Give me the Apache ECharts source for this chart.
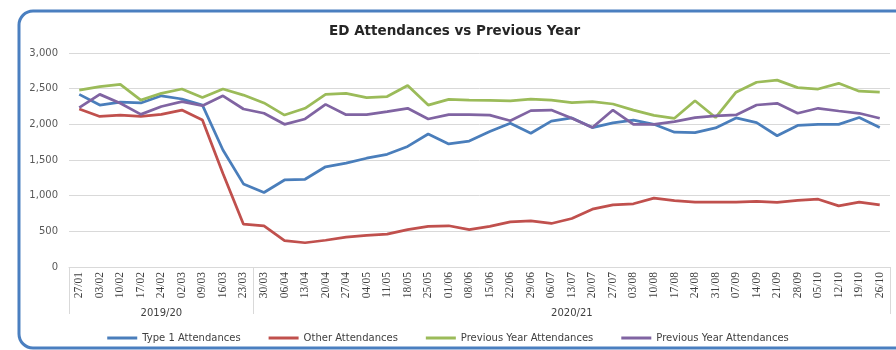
<!DOCTYPE html>
<html>
<head>
<meta charset="utf-8">
<script src="https://cdn.jsdelivr.net/npm/echarts@6/dist/echarts.min.js"></script>
<style>html,body{margin:0;padding:0;background:#fff}#c{width:896px;height:350px}</style>
</head>
<body>
<div id="c"></div>
<script>
const categories = ['27/01','03/02','10/02','17/02','24/02','02/03','09/03','16/03','23/03','30/03','06/04','13/04','20/04','27/04','04/05','11/05','18/05','25/05','01/06','08/06','15/06','22/06','29/06','06/07','13/07','20/07','27/07','03/08','10/08','17/08','24/08','31/08','07/09','14/09','21/09','28/09','05/10','12/10','19/10','26/10'];
const groups = ['2019/20','2020/21'];
const groupSizes = [9, 31];
const type1 = [2420,2270,2310,2300,2400,2355,2270,1640,1165,1045,1220,1230,1405,1455,1525,1580,1690,1865,1725,1765,1900,2015,1875,2045,2090,1955,2020,2060,2000,1890,1885,1950,2090,2025,1840,1985,2000,2000,2095,1955];
const other = [2215,2110,2130,2110,2140,2200,2060,1310,600,575,370,340,375,420,445,460,525,570,578,525,570,633,648,610,680,810,870,886,965,930,910,910,910,920,905,933,950,857,910,870];
const prevYearA = [2480,2530,2560,2340,2435,2495,2375,2495,2410,2300,2130,2225,2420,2435,2375,2390,2545,2270,2350,2340,2335,2330,2355,2340,2305,2318,2285,2200,2125,2085,2330,2095,2450,2590,2620,2515,2495,2575,2465,2450];
const prevYearB = [2235,2420,2295,2140,2250,2318,2262,2400,2215,2155,2000,2075,2280,2135,2135,2178,2225,2075,2135,2135,2130,2050,2192,2200,2085,1955,2200,2000,2000,2037,2093,2117,2131,2271,2295,2155,2225,2187,2155,2085];
const seriesNames = ['Type 1 Attendances','Other Attendances','Previous Year Attendances','Previous Year Attendances#2'];
const colors = ['#4a7ebb','#c0504d','#9bbb59','#8064a2'];

// build group axis data
const groupData = [];
const groupCenters = [];
const groupStarts = [];
let s = 0;
groups.forEach((g, i) => {
  groupStarts.push(s);
  groupCenters.push(s + Math.floor((groupSizes[i] - 1) / 2));
  for (let k = 0; k < groupSizes[i]; k++) groupData.push(g);
  s += groupSizes[i];
});
groupStarts.push(s);

const chart = echarts.init(document.getElementById('c'), null, {renderer: 'canvas'});
const font = 'DejaVu Sans';
chart.setOption({
  animation: false,
  title: {
    text: 'ED Attendances vs Previous Year',
    left: 324, top: 19,
    textStyle: {fontFamily: font, fontSize: 13.5, fontWeight: 'bold', color: '#262626'}
  },
  graphic: [{
    type: 'rect', silent: true, z: 100,
    shape: {x: 19, y: 11, width: 910, height: 337, r: 14},
    style: {fill: 'none', stroke: '#4a7fc0', lineWidth: 3}
  }],
  legend: {
    bottom: 2, left: 'center',
    icon: 'rect', itemWidth: 30, itemHeight: 3, itemGap: 28,
    textStyle: {fontFamily: font, fontSize: 10, color: '#404040'},
    formatter: n => n.replace('#2', ''),
    data: seriesNames
  },
  grid: {left: 69, right: 6, top: 53, bottom: 83, containLabel: false},
  xAxis: [{
    type: 'category', data: categories, boundaryGap: true,
    axisLine: {lineStyle: {color: '#d9d9d9'}},
    axisTick: {show: false},
    axisLabel: {interval: 0, rotate: 90, margin: 5, fontFamily: 'Liberation Serif', fontSize: 11.5, color: '#404040'}
  }, {
    type: 'category', data: groupData, boundaryGap: true, position: 'bottom',
    axisLine: {show: false},
    axisTick: {show: true, length: 47, interval: (i) => groupStarts.indexOf(i) >= 0, lineStyle: {color: '#d9d9d9'}},
    axisLabel: {interval: (i) => groupCenters.indexOf(i) >= 0, margin: 41, fontFamily: font, fontSize: 10, color: '#404040'}
  }],
  yAxis: {
    type: 'value', min: 0, max: 3000, interval: 500,
    axisLine: {show: false}, axisTick: {show: false},
    splitLine: {lineStyle: {color: '#d9d9d9'}},
    axisLabel: {margin: 11, fontFamily: font, fontSize: 10, color: '#595959', formatter: v => v.toLocaleString('en-US')}
  },
  series: [type1, other, prevYearA, prevYearB].map((d, i) => ({
    name: seriesNames[i], type: 'line', data: d, symbol: 'none',
    lineStyle: {width: 2.75, color: colors[i]}, itemStyle: {color: colors[i]}
  }))
});
</script>
</body>
</html>
